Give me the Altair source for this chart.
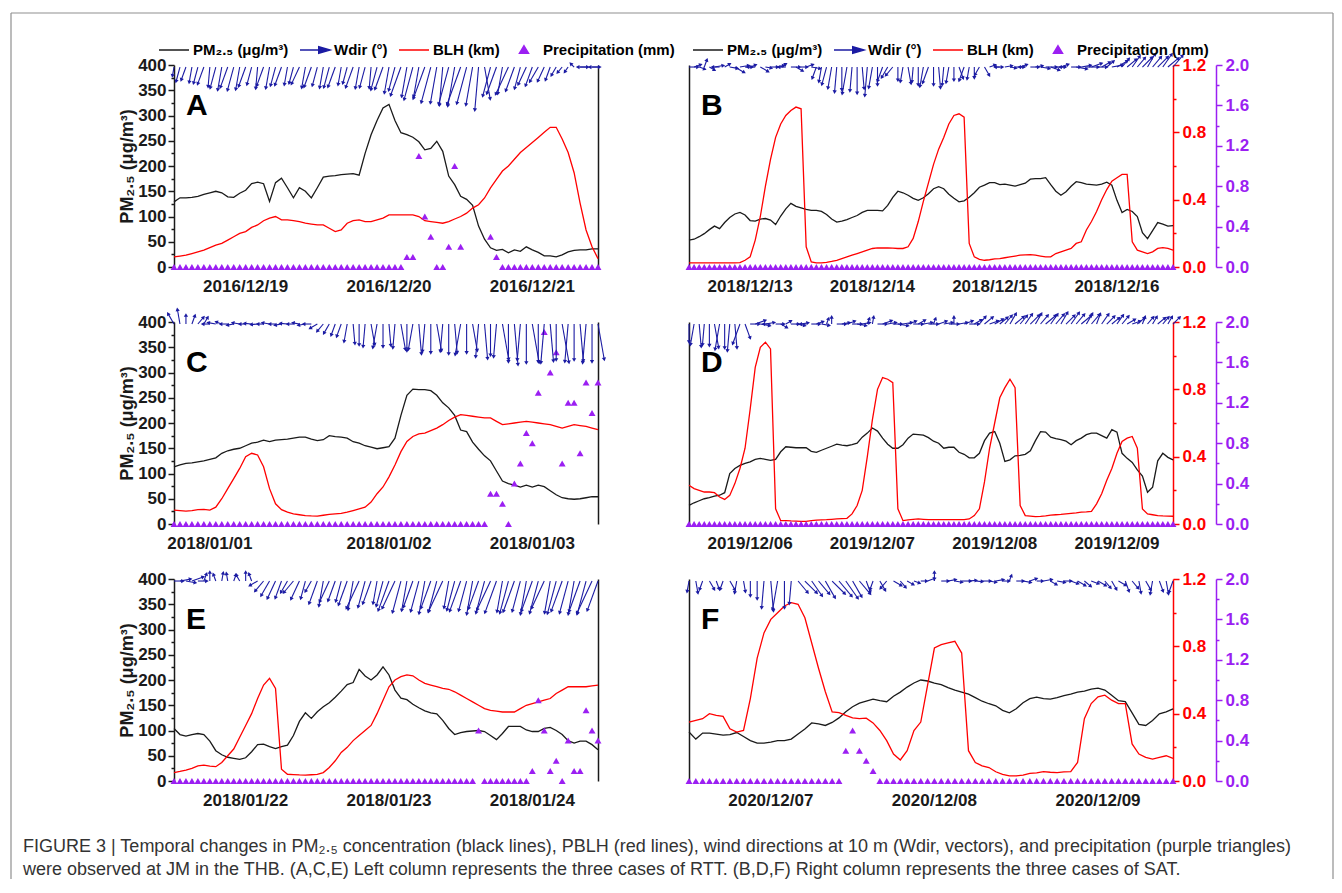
import altair as alt
import numpy as np
import pandas as pd

# ------------------------------------------------------------------ data
# Panel A (2016/12/19-21, hourly)
PM_A = [129, 137, 137, 138, 140, 144, 147, 150, 147, 139,
        138, 146, 152, 165, 168, 165, 130, 167, 176, 157,
        137, 157, 150, 137, 157, 178, 180, 181, 183, 184,
        185, 182, 225, 262, 290, 315, 322, 290, 266, 262,
        257, 248, 232, 235, 249, 229, 180, 163, 140, 134,
        122, 81, 55, 38, 33, 35, 28, 34, 31, 40,
        34, 29, 22, 22, 20, 24, 30, 33, 34, 34,
        36, 36]
BLH_A = [.06, .065, .07, .08, .09, .10, .115, .13, .14, .16,
         .18, .20, .21, .235, .25, .275, .29, .30, .28, .28,
         .275, .27, .26, .255, .25, .25, .23, .21, .22, .26,
         .275, .28, .27, .27, .28, .29, .31, .31, .31, .31,
         .31, .30, .275, .27, .265, .26, .27, .285, .30, .32,
         .35, .37, .41, .47, .52, .57, .60, .64, .68, .71,
         .74, .77, .80, .83, .83, .76, .68, .56, .38, .22,
         .12, .05]
PR_A = [0] * 39 + [.1, .1, 1.1, .5, .3, 0, 0, .2, 1.0, .2] + [None] * 4 + [.3, .1] + [0] * 17
WD_A = [10, 15, 20, 10, 15, 20, 5, 15, 10, 20,
        15, 10, 20, 15, 5, 20, 10, 15, 20, 10,
        15, 25, 10, 20, 15, 10, 15, 20, 10, 15,
        20, 10, 15, 5, 15, 20, 10, 15, 20, 10,
        15, 10, 20, 15, 10, 5, 15, 10, 20, 15,
        10, 5, 350, 15, 20, 10, 25, 20, 15, 25,
        20, 30, 25, 20, 30, 40, 35, 135, 270, 90,
        270, 90]
WS_A = [1.5, 2.5, 2.3, 2.6, 2.8, 3.0, 3.3, 3.6, 3.9, 3.6,
        4.0, 3.8, 3.4, 3.0, 3.6, 3.3, 3.6, 3.2, 3.2, 3.0,
        2.8, 3.1, 3.5, 3.5, 3.2, 3.5, 3.5, 3.5, 3.0, 2.8,
        3.6, 3.6, 3.5, 3.5, 3.9, 3.9, 4.4, 4.0, 5.0, 5.0,
        5.6, 5.0, 5.6, 6.1, 6.1, 6.4, 6.4, 6.6, 6.6, 6.3,
        6.4, 7.2, 5.4, 5.0, 4.7, 4.5, 5.0, 4.2, 3.7, 3.2,
        3.3, 2.8, 2.6, 2.3, 1.6, 1.2, 1.0, 0.8, 1.3, 1.4,
        1.3, 1.4]
DAYS_A = ["2016/12/19", "2016/12/20", "2016/12/21"]
LABH_A = [12, 36, 60]

# Panel B (2018/12/13-16)
PM_B = [53, 55, 60, 66, 74, 81, 76, 88, 98, 105,
        108, 103, 92, 91, 95, 96, 93, 84, 101, 115,
        126, 120, 117, 114, 112, 112, 110, 104, 95, 89,
        91, 94, 98, 102, 108, 112, 112, 112, 111, 122,
        138, 150, 147, 142, 136, 132, 137, 145, 155, 159,
        155, 144, 136, 129, 131, 138, 147, 158, 162, 167,
        167, 163, 164, 162, 160, 163, 166, 174, 175, 175,
        177, 163, 150, 142, 149, 160, 169, 167, 164, 163,
        162, 164, 168, 162, 132, 108, 114, 110, 100, 68,
        56, 72, 88, 85, 81, 82]
BLH_B = [.024, .024, .024, .024, .024, .024, .024, .024, .025, .025,
         .026, .04, .06, .16, .30, .48, .64, .77, .85, .90,
         .93, .95, .94, .12, .03, .025, .025, .028, .033, .04,
         .05, .06, .07, .08, .09, .10, .11, .113, .113, .113,
         .112, .11, .11, .12, .17, .27, .39, .50, .61, .70,
         .77, .85, .90, .91, .89, .14, .06, .045, .04, .043,
         .048, .05, .055, .06, .065, .07, .072, .073, .07, .065,
         .06, .06, .08, .09, .10, .11, .14, .15, .22, .27,
         .33, .40, .46, .51, .53, .55, .55, .15, .10, .09,
         .08, .09, .11, .115, .11, .10]
PR_B = [0] * 96
WD_B = [270, 250, 290, 200, 300, 260, 90, 240, 280, 300,
        260, 270, 250, 90, 300, 280, 270, 260, 240, 90,
        270, 300, 270, 250, 280, 20, 10, 15, 10, 5,
        0, 10, 5, 0, 355, 5, 10, 0, 20, 30,
        40, 0, 10, 350, 5, 0, 10, 20, 0, 355,
        5, 10, 0, 340, 20, 10, 0, 30, 330, 250,
        270, 90, 260, 280, 270, 250, 90, 270, 260, 280,
        270, 290, 270, 250, 90, 270, 280, 260, 270, 250,
        270, 240, 230, 260, 240, 220, 230, 215, 220, 225,
        210, 220, 225, 215, 230, 220]
WS_B = [1.5, 1.2, 1.0, 1.3, 1.0, 1.5, 1.2, 1.0, 1.3, 1.8,
        1.5, 1.2, 1.0, 1.3, 1.5, 1.0, 1.2, 1.4, 1.0, 1.2,
        1.5, 1.3, 1.0, 1.2, 1.5, 2.0, 2.5, 3.0, 3.6, 4.2,
        3.8, 4.5, 4.0, 4.4, 3.6, 4.8, 3.5, 3.0, 2.5, 2.0,
        1.8, 2.2, 2.5, 2.8, 2.5, 3.0, 3.3, 2.8, 3.0, 3.5,
        3.0, 2.6, 2.2, 2.0, 2.4, 2.0, 1.8, 1.5, 1.6, 1.0,
        1.3, 0.8, 1.2, 1.0, 1.5, 1.2, 1.0, 1.4, 1.2, 1.5,
        1.8, 1.5, 1.6, 1.3, 1.0, 1.5, 1.8, 1.6, 2.0, 1.8,
        1.7, 1.6, 1.5, 1.8, 2.0, 1.8, 2.0, 2.2, 2.0, 2.3,
        2.5, 2.2, 2.4, 2.6, 2.3, 2.5]
DAYS_B = ["2018/12/13", "2018/12/14", "2018/12/15", "2018/12/16"]
LABH_B = [12, 36, 60, 84]

# Panel C (2018/01/01-03)
PM_C = [113, 117, 120, 121, 123, 125, 128, 131, 140, 145,
        148, 150, 155, 160, 162, 166, 163, 166, 167, 168,
        170, 172, 172, 168, 165, 167, 175, 173, 172, 170,
        163, 160, 155, 152, 149, 151, 153, 170, 215, 255,
        267, 266, 266, 264, 255, 240, 230, 215, 186, 183,
        162, 148, 135, 125, 105, 85, 80, 77, 73, 77,
        73, 77, 74, 66, 58, 52, 50, 49, 50, 52,
        54, 54]
BLH_C = [.083, .08, .077, .08, .085, .087, .083, .10, .15, .21,
         .27, .33, .40, .42, .41, .34, .21, .12, .085, .07,
         .06, .055, .05, .048, .047, .052, .057, .06, .063, .07,
         .08, .09, .10, .13, .18, .22, .28, .35, .43, .49,
         .52, .535, .54, .555, .57, .59, .615, .635, .65, .645,
         .64, .635, .63, .63, .61, .59, .595, .60, .605, .61,
         .605, .60, .595, .59, .58, .57, .58, .59, .585, .58,
         .57, .56]
PR_C = [0] * 53 + [.3, .3, .2, 0, .4, .6, .9, .8, 1.3, 1.9,
                   1.5, 1.7, .6, 1.2, 1.2, .7, 1.4, 1.1, 1.4]
WD_C = [150, 170, 180, 200, 220, 210, 90, 100, 110, 90,
        80, 100, 90, 95, 85, 90, 100, 90, 80, 95,
        90, 100, 80, 90, 60, 40, 30, 20, 20, 10,
        355, 0, 5, 350, 10, 0, 355, 5, 350, 0,
        10, 355, 5, 0, 350, 5, 0, 355, 10, 0,
        350, 5, 355, 0, 5, 350, 0, 355, 5, 0,
        350, 0, 5, 355, 0, 350, 5, 0, 355, 5,
        0, 350]
WS_C = [2.0, 2.5, 1.5, 1.5, 1.5, 1.3, 1.2, 1.3, 1.0, 1.2,
        1.1, 1.2, 1.0, 1.2, 1.1, 1.0, 1.2, 1.0, 1.1, 1.2,
        1.0, 1.1, 1.2, 1.3, 1.4, 1.6, 1.8, 2.0, 2.2, 3.0,
        3.3, 3.5, 3.8, 3.5, 4.0, 3.8, 3.6, 4.0, 4.3, 4.5,
        4.3, 5.0, 4.6, 4.8, 4.5, 4.6, 5.0, 4.8, 5.2, 4.8,
        4.5, 5.5, 5.8, 5.2, 5.5, 6.0, 6.3, 6.8, 6.0, 6.5,
        6.5, 6.3, 6.5, 6.2, 6.0, 6.5, 6.3, 6.0, 6.2, 6.5,
        6.3, 6.0]
DAYS_C = ["2018/01/01", "2018/01/02", "2018/01/03"]
LABH_C = [6, 36, 60]

# Panel D (2019/12/06-09)
PM_D = [37, 42, 46, 50, 52, 55, 57, 62, 100, 110,
        116, 120, 123, 128, 130, 128, 126, 128, 143, 153,
        152, 151, 151, 151, 144, 142, 146, 150, 154, 158,
        156, 155, 157, 160, 172, 180, 190, 184, 170, 158,
        150, 150, 157, 170, 178, 177, 176, 171, 164, 160,
        150, 152, 152, 142, 138, 131, 131, 140, 165, 180,
        183, 160, 124, 127, 135, 136, 138, 145, 165, 183,
        182, 172, 169, 167, 164, 157, 165, 170, 177, 180,
        180, 175, 170, 187, 182, 140, 130, 122, 107, 95,
        63, 73, 125, 140, 132, 127]
BLH_D = [.23, .21, .20, .19, .19, .186, .16, .146, .17, .24,
         .33, .45, .68, .93, 1.05, 1.08, 1.04, .09, .02, .02,
         .018, .017, .016, .016, .02, .023, .025, .026, .028, .03,
         .032, .034, .06, .11, .20, .40, .62, .80, .87, .86,
         .84, .09, .02, .025, .028, .03, .028, .026, .026, .026,
         .026, .026, .026, .026, .026, .03, .05, .09, .25, .45,
         .60, .75, .81, .86, .81, .11, .05, .047, .044, .045,
         .048, .053, .055, .057, .06, .063, .066, .07, .072, .075,
         .12, .18, .26, .33, .42, .49, .51, .52, .45, .09,
         .06, .055, .05, .048, .047, .046]
PR_D = [0] * 96
WD_D = [0, 10, 355, 5, 0, 350, 10, 0, 5, 355,
        20, 340, 270, 250, 280, 260, 90, 270, 300, 240,
        270, 280, 260, 90, 270, 250, 280, 200, 180, 270,
        260, 250, 270, 280, 260, 200, 190, 270, 250, 260,
        270, 280, 260, 250, 270, 240, 260, 270, 200, 250,
        260, 270, 180, 260, 250, 270, 240, 220, 230, 250,
        240, 230, 220, 210, 230, 220, 215, 225, 210, 220,
        230, 215, 220, 210, 225, 215, 220, 230, 210, 220,
        200, 215, 225, 230, 215, 220, 240, 250, 230, 200,
        220, 210, 230, 220, 210, 225]
WS_D = [3.0, 3.5, 3.8, 3.5, 3.6, 4.0, 4.3, 4.0, 4.5, 4.0,
        3.5, 2.5, 1.5, 1.8, 1.6, 1.5, 1.2, 1.4, 1.2, 1.0,
        1.3, 1.5, 1.2, 1.0, 1.4, 1.2, 1.3, 1.0, 1.2, 1.5,
        1.3, 1.4, 1.6, 1.5, 1.3, 1.0, 1.2, 1.5, 1.6, 1.4,
        1.5, 1.7, 1.5, 1.4, 1.6, 1.3, 1.5, 1.6, 1.0, 1.4,
        1.5, 1.6, 1.2, 1.4, 1.5, 1.6, 1.4, 1.6, 1.8, 1.5,
        1.6, 1.7, 1.8, 2.0, 1.9, 1.8, 2.0, 2.1, 2.0, 1.9,
        2.2, 2.0, 2.1, 2.2, 2.0, 2.3, 2.1, 2.2, 2.0, 2.1,
        1.8, 2.0, 1.8, 1.6, 1.8, 1.7, 1.5, 1.4, 1.6, 1.3,
        1.5, 1.4, 1.6, 1.5, 1.4, 1.6]
DAYS_D = ["2019/12/06", "2019/12/07", "2019/12/08", "2019/12/09"]
LABH_D = [12, 36, 60, 84]

# Panel E (2018/01/22-24)
PM_E = [104, 92, 89, 92, 94, 92, 79, 60, 52, 47,
        45, 43, 46, 58, 72, 73, 68, 64, 68, 71,
        90, 118, 135, 124, 137, 147, 155, 166, 178, 191,
        195, 221, 208, 200, 210, 226, 210, 180, 164, 161,
        152, 145, 139, 135, 133, 120, 104, 92, 96, 98,
        99, 100, 98, 90, 82, 94, 108, 108, 108, 101,
        98, 98, 104, 106, 100, 92, 80, 75, 79, 79,
        72, 62]
BLH_E = [.05, .057, .065, .075, .09, .094, .088, .085, .11, .15,
         .19, .26, .33, .40, .49, .57, .61, .55, .07, .04,
         .038, .036, .035, .037, .039, .05, .08, .12, .17, .20,
         .24, .27, .30, .33, .40, .48, .56, .60, .62, .63,
         .625, .60, .58, .57, .56, .55, .545, .53, .51, .49,
         .47, .45, .43, .42, .415, .41, .41, .41, .43, .45,
         .46, .47, .48, .49, .52, .54, .56, .56, .56, .56,
         .565, .57]
PR_E = [0] * 51 + [.5] + [0] * 8 + [.1, .8, .5, .1, .2, 0, .4, .1, .1, .7, .5, .4]
WD_E = [270, 260, 280, 250, 270, 200, 180, 160, 190, 170,
        200, 150, 180, 160, 60, 40, 30, 25, 20, 30,
        40, 25, 15, 30, 20, 10, 25, 20, 15, 20,
        10, 25, 15, 20, 10, 15, 20, 25, 15, 10,
        20, 15, 10, 20, 15, 25, 10, 15, 20, 15,
        10, 20, 15, 25, 20, 10, 15, 20, 15, 10,
        20, 15, 25, 10, 15, 20, 15, 10, 20, 15,
        25, 20]
WS_E = [1.5, 1.8, 1.6, 2.0, 1.5, 1.3, 1.5, 1.2, 1.4, 1.3,
        1.1, 1.2, 1.5, 1.3, 1.5, 2.2, 2.8, 3.2, 3.0, 2.2,
        2.5, 3.3, 3.0, 2.0, 4.0, 4.2, 3.8, 3.5, 3.5, 4.2,
        4.8, 5.0, 4.5, 4.0, 3.8, 4.3, 5.2, 5.0, 5.4, 5.0,
        4.6, 5.2, 5.5, 4.8, 5.3, 5.6, 4.5, 5.0, 5.3, 5.1,
        5.6, 4.9, 5.5, 5.3, 5.6, 5.2, 5.5, 5.4, 5.2, 5.6,
        5.3, 5.5, 5.0, 5.4, 5.6, 5.3, 5.5, 5.6, 5.4, 5.7,
        5.9, 5.2]
DAYS_E = ["2018/01/22", "2018/01/23", "2018/01/24"]
LABH_E = [12, 36, 60]

# Panel F (2020/12/07-09)
PM_F = [97, 83, 95, 95, 93, 91, 92, 96, 88, 80,
        75, 75, 77, 80, 80, 83, 93, 103, 115, 113,
        110, 116, 125, 137, 147, 154, 158, 162, 159, 157,
        168, 176, 186, 194, 200, 198, 194, 191, 185, 180,
        176, 172, 165, 158, 153, 149, 140, 135, 143, 155,
        163, 166, 163, 162, 165, 169, 172, 176, 178, 182,
        184, 180, 170, 159, 157, 135, 112, 110, 120, 133,
        137, 143]
BLH_F = [.35, .36, .37, .40, .39, .384, .31, .29, .30, .49,
         .73, .88, .96, 1.00, 1.04, 1.06, 1.05, .97, .82, .67,
         .53, .41, .406, .39, .375, .37, .373, .345, .30, .24,
         .16, .125, .18, .30, .35, .57, .79, .81, .82, .83,
         .76, .18, .11, .09, .08, .055, .04, .03, .03, .035,
         .045, .048, .056, .052, .05, .054, .056, .11, .37, .46,
         .50, .51, .48, .46, .46, .22, .16, .14, .13, .14,
         .15, .134]
PR_F = [0] * 23 + [.3, .5, .3, .2, .1] + [0] * 44
WD_F = [10, 350, 20, 330, 340, 20, 330, 10, 350, 0,
        0, 5, 355, 10, 0, 5, 320, 315, 325, 320,
        330, 315, 320, 325, 330, 320, 340, 20, 330, 40,
        300, 320, 300, 290, 270, 250, 180, 270, 260, 280,
        270, 265, 275, 270, 280, 260, 270, 200, 270, 280,
        250, 270, 260, 300, 280, 270, 290, 300, 310, 290,
        300, 320, 330, 300, 340, 320, 350, 330, 10, 340,
        350, 20]
WS_F = [1.8, 2.0, 1.5, 1.6, 1.4, 1.5, 1.7, 2.0, 1.8, 2.5,
        3.0, 4.5, 5.0, 4.8, 4.5, 3.8, 2.5, 2.8, 3.0, 2.8,
        3.2, 3.0, 3.3, 3.5, 3.0, 2.8, 2.0, 1.5, 1.8, 1.6,
        1.5, 1.4, 1.2, 1.0, 1.0, 1.3, 1.5, 1.2, 1.3, 1.2,
        1.5, 1.3, 1.2, 1.4, 1.2, 1.3, 1.1, 1.0, 1.2, 1.3,
        1.2, 1.0, 1.4, 1.2, 1.3, 1.2, 1.3, 1.5, 1.4, 1.3,
        1.5, 1.5, 1.6, 1.4, 1.8, 1.6, 2.0, 1.7, 2.2, 1.8,
        2.2, 2.0]
DAYS_F = ["2020/12/07", "2020/12/08", "2020/12/09"]
LABH_F = [12, 36, 60]

SERIES = ["PM\u2082.\u2085 (\u03bcg/m\u00b3)", "Wdir (\u00b0)", "BLH (km)", "Precipitation (mm)"]
PM_TICKS = [0, 25, 50, 75, 100, 125, 150, 175, 200, 225, 250, 275, 300, 325, 350, 375, 400]
BLH_TICKS = [0, 0.2, 0.4, 0.6, 0.8, 1.0, 1.2]
PR_TICKS = [0, 0.2, 0.4, 0.6, 0.8, 1.0, 1.2, 1.4, 1.6, 1.8, 2.0]
CAPTION = [
    "FIGURE 3 | Temporal changes in PM\u2082.\u2085 concentration (black lines), PBLH (red lines), "
    "wind directions at 10 m (Wdir, vectors), and precipitation (purple triangles)",
    "were observed at JM in the THB. (A,C,E) Left column represents the three cases of RTT. "
    "(B,D,F) Right column represents the three cases of SAT.",
]

# ------------------------------------------------------------------ style
FONT = "Liberation Sans"
BLACK = "#1a1a1a"
RED = "#ff0000"
BLUE = "#1b1ba3"
PURPLE = "#9b1ff2"
PH = 202           # plot height
WL, WR = 424, 484  # plot widths (left / right column)
KPX = 6.0          # px per m/s for wind vectors
Y0 = 396           # vector origin on PM2.5 scale
ARROW = "M-1,0L0.45,0M0.25,-0.22L1,0L0.25,0.22Z"
TRI = "M0,-0.28L0.3,0.22L-0.3,0.22Z"


def cond(test, a, b):
    return {"condition": {"test": test, "value": a}, "value": b}


def panel(letter, pm, blh, pr, wd, ws, labh, days, width, left, legend_x=None, frame=False):
    n = len(pm)
    hrs = list(range(n))
    df = pd.DataFrame({"h": hrs, "pm": pm, "blh": blh, "pr": pr})
    pxh = width / (n - 1)
    pxu = PH / 400.0
    ang = [(d + 180) % 360 for d in wd]
    xe = [h + s * KPX * np.sin(np.radians(a)) / pxh for h, a, s in zip(hrs, ang, ws)]
    ye = [Y0 + s * KPX * np.cos(np.radians(a)) / pxu for a, s in zip(ang, ws)]
    wdf = pd.DataFrame({"h": hrs, "y0": [Y0] * n, "xe": xe, "ye": ye, "ang": ang})
    ddf = pd.DataFrame({"h": labh, "day": days})

    xs = alt.Scale(domain=[0, n - 1], nice=False, zero=False)
    s_pm = alt.Scale(domain=[0, 400], nice=False)
    s_blh = alt.Scale(domain=[0, 1.2], nice=False)
    s_pr = alt.Scale(domain=[0, 2.0], nice=False)

    x_axis = alt.Axis(orient="bottom", values=list(range(0, n, 24)), labels=False,
                      tickSize=5, tickWidth=1.5, tickColor=BLACK,
                      domainColor=BLACK, domainWidth=1.5, grid=False, title=None)
    if left:
        pm_axis = alt.Axis(orient="left", values=PM_TICKS,
                           labelExpr="datum.value % 50 == 0 ? datum.label : ''",
                           labelFont=FONT, labelFontSize=17, labelFontWeight="bold",
                           labelColor=BLACK, tickColor=BLACK,
                           tickSize=cond("datum.value % 50 == 0", 6, 3), tickWidth=1.5,
                           domainColor=BLACK, domainWidth=1.5, labelPadding=2, grid=False,
                           labelOverlap=False,
                           title=SERIES[0], titleFont=FONT, titleFontSize=18,
                           titleFontWeight="bold", titleColor=BLACK, titlePadding=1)
        blh_axis = alt.Axis(orient="right", labels=False, ticks=False, domainColor=BLACK,
                            domainWidth=1.5, grid=False, title=None)
        pr_axis = None
    else:
        pm_axis = alt.Axis(orient="left", labels=False, ticks=False, domainColor=BLACK,
                           domainWidth=1.5, grid=False, title=None)
        mtest = "round(datum.value * 10) % 4 == 0"
        blh_axis = alt.Axis(orient="right", values=BLH_TICKS,
                            labelExpr=f"{mtest} ? format(datum.value, '.1f') : ''",
                            labelFont=FONT, labelFontSize=17, labelFontWeight="bold",
                            labelColor=RED, tickColor=RED, tickSize=cond(mtest, 6, 3),
                            tickWidth=1.5, domainColor=RED, domainWidth=1.5, labelPadding=3,
                            grid=False, labelOverlap=False, title=None)
        pr_axis = alt.Axis(orient="right", offset=43, values=PR_TICKS,
                           labelExpr=f"{mtest} ? format(datum.value, '.1f') : ''",
                           labelFont=FONT, labelFontSize=17, labelFontWeight="bold",
                           labelColor=PURPLE, tickColor=PURPLE, tickSize=cond(mtest, 6, 3),
                           tickWidth=1.5, domainColor=PURPLE, domainWidth=1.5,
                           labelPadding=3, grid=False, labelOverlap=False, title=None)

    base = alt.Chart(df)
    xn = alt.X("h:Q", scale=xs, axis=None)
    pm_line = base.mark_line(color=BLACK, strokeWidth=1.3).encode(
        x=alt.X("h:Q", scale=xs, axis=x_axis), y=alt.Y("pm:Q", scale=s_pm, axis=pm_axis))
    blh_line = base.mark_line(color=RED, strokeWidth=1.3).encode(
        x=xn, y=alt.Y("blh:Q", scale=s_blh, axis=blh_axis))
    pr_pts = base.mark_point(shape="triangle-up", filled=True, size=48, color=PURPLE,
                             opacity=1).encode(
        x=xn, y=alt.Y("pr:Q", scale=s_pr, axis=pr_axis))
    wbase = alt.Chart(wdf)
    shafts = wbase.mark_rule(color=BLUE, strokeWidth=1.1).encode(
        x=xn, x2="xe:Q", y=alt.Y("y0:Q", scale=s_pm, axis=None), y2="ye:Q")
    heads = wbase.mark_point(shape="triangle-up", filled=True, size=18, color=BLUE,
                             opacity=1).encode(
        x=alt.X("xe:Q", scale=xs, axis=None), y=alt.Y("ye:Q", scale=s_pm, axis=None),
        angle=alt.Angle("ang:Q", scale=None))
    dates = alt.Chart(ddf).mark_text(
        align="center", baseline="top", font=FONT, fontSize=17, fontWeight="bold",
        color=BLACK).encode(x=alt.X("h:Q", scale=xs, axis=None), y=alt.value(PH + 12),
                            text="day:N")
    let = alt.Chart(pd.DataFrame({"t": [letter]})).mark_text(
        align="left", baseline="alphabetic", font=FONT, fontSize=30, fontWeight="bold",
        color="black").encode(x=alt.value(12), y=alt.value(50), text="t:N")

    layers = [pm_line, blh_line, pr_pts, shafts, heads, dates, let]

    if legend_x is not None:
        leg = alt.Legend(title=None, orient="none", legendX=legend_x, legendY=-31,
                         direction="horizontal", symbolSize=900, symbolStrokeWidth=1.5,
                         symbolOpacity=1, labelFont=FONT, labelFontSize=15,
                         labelFontWeight="bold", labelColor="black", labelOffset=3,
                         columnPadding=8, labelLimit=300)
        ldf = pd.DataFrame({"s": SERIES})
        cols = [BLACK, BLUE, RED, PURPLE]
        shapes = ["stroke", ARROW, "stroke", TRI]
        layers.append(alt.Chart(ldf).transform_filter("false").mark_point(
            filled=True, opacity=1).encode(
            fill=alt.Fill("s:N", scale=alt.Scale(domain=SERIES, range=cols), legend=leg),
            stroke=alt.Stroke("s:N", scale=alt.Scale(domain=SERIES, range=cols), legend=leg),
            shape=alt.Shape("s:N", scale=alt.Scale(domain=SERIES, range=shapes), legend=leg)))

    if frame:
        fr = alt.Chart(pd.DataFrame({"a": [0]}))
        layers.append(fr.mark_rule(color="#8f8f8f", strokeWidth=1.2).encode(
            x=alt.value(-163), y=alt.value(-52), y2=alt.value(814)))
        layers.append(fr.mark_rule(color="#8f8f8f", strokeWidth=1.2).encode(
            x=alt.value(-163), x2=alt.value(1159), y=alt.value(-52)))
        layers.append(fr.mark_rule(color="#8f8f8f", strokeWidth=1.2).encode(
            x=alt.value(1159), y=alt.value(-52), y2=alt.value(814)))

    return alt.layer(*layers).resolve_scale(y="independent").properties(
        width=width, height=PH)


pA = panel("A", PM_A, BLH_A, PR_A, WD_A, WS_A, LABH_A, DAYS_A, WL, True, legend_x=-16, frame=True)
pB = panel("B", PM_B, BLH_B, PR_B, WD_B, WS_B, LABH_B, DAYS_B, WR, False, legend_x=3)
pC = panel("C", PM_C, BLH_C, PR_C, WD_C, WS_C, LABH_C, DAYS_C, WL, True)
pD = panel("D", PM_D, BLH_D, PR_D, WD_D, WS_D, LABH_D, DAYS_D, WR, False)
pE = panel("E", PM_E, BLH_E, PR_E, WD_E, WS_E, LABH_E, DAYS_E, WL, True)
pF = panel("F", PM_F, BLH_F, PR_F, WD_F, WS_F, LABH_F, DAYS_F, WR, False)

chart = alt.concat(pA, pB, pC, pD, pE, pF, columns=2, spacing={"row": 55, "column": 91},
                   bounds="flush", align="each").resolve_scale(
    fill="independent", stroke="independent", shape="independent").properties(
    title=alt.TitleParams(text=CAPTION, orient="bottom", anchor="start", frame="group",
                          dx=-151, offset=-42, font="Liberation Sans", fontSize=18,
                          fontWeight="normal", color="#333333", lineHeight=23),
    padding={"left": 2, "top": 4, "right": 0, "bottom": 0},
).configure_view(stroke=None)

chart.save("out.html", embed_options={"renderer": "svg", "actions": False})
